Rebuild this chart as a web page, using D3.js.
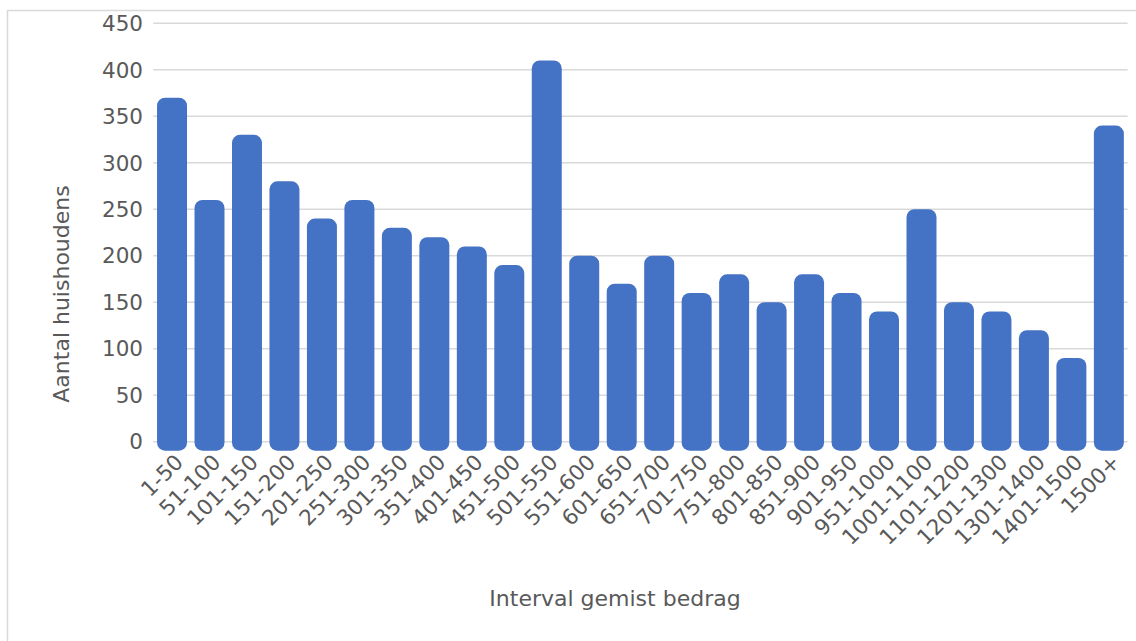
<!DOCTYPE html>
<html lang="nl">
    <head>
        <meta charset="utf-8"/>
        <script src="https://d3js.org/d3.v7.min.js"></script>
        <style>
            body { margin: 0; background: #fff; }
            text { font-family: "DejaVu Sans", sans-serif; fill: #595959; }
        </style>
    </head>
    <body>
        <div id="chart"></div>
    </body>
    <script>
        var categories = ["1-50", "51-100", "101-150", "151-200", "201-250", "251-300", "301-350",
            "351-400", "401-450", "451-500", "501-550", "551-600", "601-650", "651-700", "701-750",
            "751-800", "801-850", "851-900", "901-950", "951-1000", "1001-1100", "1101-1200",
            "1201-1300", "1301-1400", "1401-1500", "1500+"];
        var households = [370, 260, 330, 280, 240, 260, 230, 220, 210, 190, 410, 200, 170, 200,
            160, 180, 150, 180, 160, 140, 250, 150, 140, 120, 90, 340];
        var yTicks = [0, 50, 100, 150, 200, 250, 300, 350, 400, 450];

        var W = 1136, H = 641;
        var svg = d3.select("#chart")
            .append("svg")
                .attr("width", W)
                .attr("height", H)

        // chart frame (only top + left edge visible)
        svg.append("path")
            .attr("d", "M7.5," + H + "V10.5H" + W)
            .attr("fill", "none")
            .attr("stroke", "#d9d9d9")
            .attr("stroke-width", 1.5)

        var x = d3.scaleBand()
            .domain(categories)
            .range([153.3, 1127.6])
            .paddingInner(0.2)
            .paddingOuter(0.1)

        var y = d3.scaleLinear()
            .domain([0, 450])
            .range([441.7, 23.3])

        // gridlines
        svg.append("g")
            .selectAll("line")
            .data(yTicks)
            .enter()
            .append("line")
            .attr("x1", 153.3)
            .attr("x2", 1127.6)
            .attr("y1", function (d) { return y(d); })
            .attr("y2", function (d) { return y(d); })
            .attr("stroke", "#d9d9d9")
            .attr("stroke-width", 1.5)

        // y tick labels
        svg.append("g")
            .selectAll("text")
            .data(yTicks)
            .enter()
            .append("text")
            .attr("x", 143)
            .attr("y", function (d) { return y(d); })
            .attr("dy", "0.36em")
            .attr("text-anchor", "end")
            .style("font-size", "21.5px")
            .text(function (d) { return d; })

        // bars, rounded; bottom runs a bit under the zero line
        svg.append("g")
            .selectAll("rect")
            .data(households)
            .enter()
            .append("rect")
            .attr("x", function (d, i) { return x(categories[i]); })
            .attr("y", function (d) { return y(d); })
            .attr("width", x.bandwidth())
            .attr("height", function (d) { return y(0) - y(d) + 9; })
            .attr("rx", 8)
            .attr("fill", "#4472c4")

        // x labels
        svg.append("g")
            .selectAll("text")
            .data(categories)
            .enter()
            .append("text")
            .attr("transform", function (d) {
                return "translate(" + (x(d) + x.bandwidth() / 2 + 7) + ",458) rotate(-45)";
            })
            .attr("text-anchor", "end")
            .attr("dy", "0.36em")
            .style("font-size", "21.5px")
            .text(function (d) { return d; })

        // axis titles
        svg.append("text")
            .attr("x", 615)
            .attr("y", 606)
            .attr("text-anchor", "middle")
            .style("font-size", "22px")
            .text("Interval gemist bedrag")

        svg.append("text")
            .attr("transform", "translate(69,294) rotate(-90)")
            .attr("text-anchor", "middle")
            .style("font-size", "22px")
            .text("Aantal huishoudens")
    </script>
</html>
